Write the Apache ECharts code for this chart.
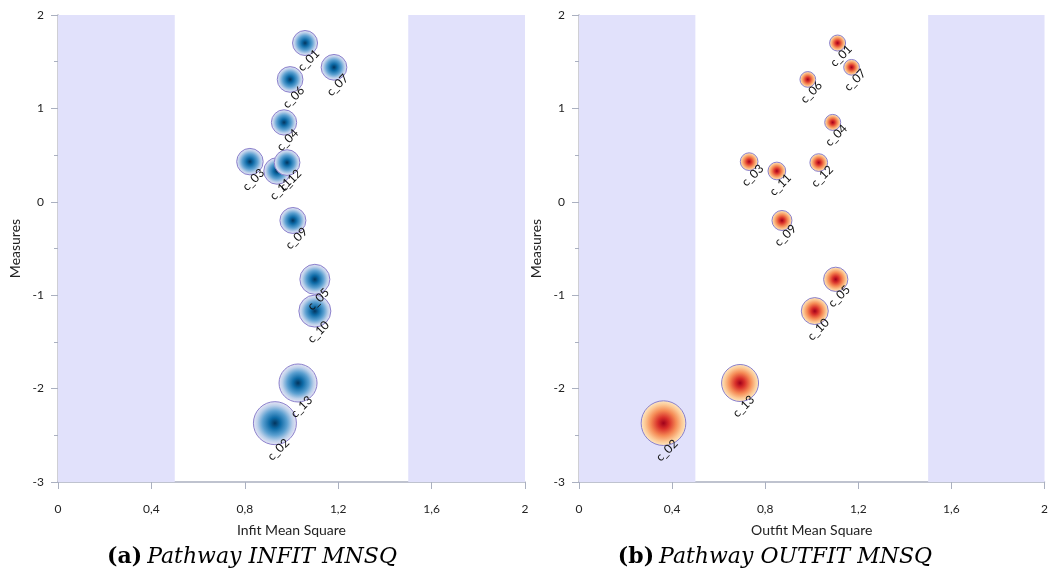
<!DOCTYPE html>
<html>
<head>
<meta charset="utf-8">
<script src="https://cdn.jsdelivr.net/npm/echarts@6/dist/echarts.min.js"></script>
<style>
html,body{margin:0;padding:0;background:#fff;}
#chart{width:1051px;height:585px;}
</style>
</head>
<body>
<div id="chart"></div>
<script>
// ---- data ----
const items = ['c_01','c_02','c_03','c_04','c_05','c_06','c_07','c_09','c_10','c_11','c_12','c_13'];
const measures = [1.70, -2.37, 0.43, 0.85, -0.83, 1.31, 1.44, -0.20, -1.17, 0.33, 0.42, -1.94];
const infitMnsq = [1.058, 0.929, 0.822, 0.968, 1.10, 0.994, 1.182, 1.006, 1.10, 0.938, 0.981, 1.028];
const outfitMnsq = [1.111, 0.363, 0.731, 1.09, 1.103, 0.983, 1.171, 0.872, 1.013, 0.85, 1.03, 0.692];
// bubble magnitudes (relative)
const infitBubble = [25, 43, 26.5, 25.3, 30, 25.7, 25.7, 26, 32, 26.5, 25.7, 38];
const outfitBubble = [16, 44.7, 17.7, 16, 24.3, 15.7, 15.7, 20, 27, 17.7, 17.7, 37];
const xTicks = [0, 0.4, 0.8, 1.2, 1.6, 2];
const yTicks = [-3, -2, -1, 0, 1, 2];
const acceptLow = 0.5, acceptHigh = 1.5;

const font = 'Lato, "Open Sans", sans-serif';
const serif = '"DejaVu Serif", serif';
const blueGrad = {type:'radial', x:0.5, y:0.5, r:0.5, colorStops:[
  {offset:0, color:'#03355e'},{offset:0.25, color:'#0d6aa6'},{offset:0.55, color:'#5a9fd0'},{offset:0.8, color:'#bcd0ea'},{offset:1, color:'#ece8f6'}]};
const redGrad = {type:'radial', x:0.5, y:0.5, r:0.5, colorStops:[
  {offset:0, color:'#a0001a'},{offset:0.25, color:'#d8302a'},{offset:0.55, color:'#f58a55'},{offset:0.8, color:'#fcc894'},{offset:1, color:'#fdebc8'}]};

function mkData(xs, sizes){
  return items.map((n,i)=>({name:n, value:[xs[i], measures[i], sizes[i]]}));
}
function xAxis(idx, name){
  return {gridIndex:idx, type:'value', min:0, max:2, interval:0.4, name:name,
    nameLocation:'middle', nameGap:41,
    nameTextStyle:{fontFamily:font, fontSize:14, color:'#222'},
    axisLine:{show:true, onZero:false, lineStyle:{color:'#aab0c0', width:1.5}},
    axisTick:{show:true, length:7, lineStyle:{color:'#aab0c0'}},
    splitLine:{show:false},
    axisLabel:{fontFamily:font, fontSize:12, color:'#222', margin:21,
      formatter:v=>{const t=xTicks.find(x=>Math.abs(x-v)<1e-6); return (t===undefined? v : t).toString().replace('.',',');}}
  };
}
function yAxis(idx){
  return {gridIndex:idx, type:'value', min:-3, max:2, interval:1, name:'Measures',
    nameLocation:'middle', nameGap:36, nameRotate:90,
    nameTextStyle:{fontFamily:font, fontSize:14, color:'#222'},
    axisLine:{show:true, onZero:false, lineStyle:{color:'#cfcfd4', width:2}},
    axisTick:{show:true, length:7, lineStyle:{color:'#aab0c0'}},
    minorTick:{show:true, splitNumber:2, length:4, lineStyle:{color:'#aab0c0'}},
    splitLine:{show:false},
    axisLabel:{fontFamily:font, fontSize:12, color:'#222', margin:14}
  };
}
function series(idx, xs, sizes, grad){
  return {type:'scatter', xAxisIndex:idx, yAxisIndex:idx,
    data: mkData(xs, sizes),
    symbolSize: v=>v[2],
    itemStyle:{color:grad, borderColor:'#8a80cc', borderWidth:1, opacity:1},
    label:{show:true, formatter:'{b}', position:'bottom', distance:8, rotate:45,
      align:'center', verticalAlign:'middle', offset:[5,0],
      fontFamily:font, fontSize:12, color:'#111'},
    emphasis:{disabled:true},
    markArea:{silent:true, itemStyle:{color:'#e1e1fb'}, label:{show:false},
      data:[[{xAxis:0},{xAxis:acceptLow}],[{xAxis:acceptHigh},{xAxis:2}]]}
  };
}
function caption(tag, txt, cx){
  return {text:'{b|'+tag+'} {i|'+txt+'}', left:cx, top:541, textAlign:'center',
    textStyle:{rich:{
      b:{fontFamily:serif, fontWeight:'bold', fontStyle:'normal', fontSize:22, color:'#000'},
      i:{fontFamily:serif, fontWeight:'normal', fontStyle:'italic', fontSize:22, color:'#000'}}}};
}

const chart = echarts.init(document.getElementById('chart'));
chart.setOption({
  animation:false,
  backgroundColor:'#fff',
  title:[caption('(a)','Pathway INFIT MNSQ',247), caption('(b)','Pathway OUTFIT MNSQ',770)],
  grid:[
    {left:58, top:15, width:467, height:467},
    {left:579, top:15, width:468, height:467}
  ],
  xAxis:[xAxis(0,'Infit Mean Square'), xAxis(1,'Outfit Mean Square')],
  yAxis:[yAxis(0), yAxis(1)],
  series:[series(0, infitMnsq, infitBubble, blueGrad), series(1, outfitMnsq, outfitBubble, redGrad)]
});
</script>
</body>
</html>
